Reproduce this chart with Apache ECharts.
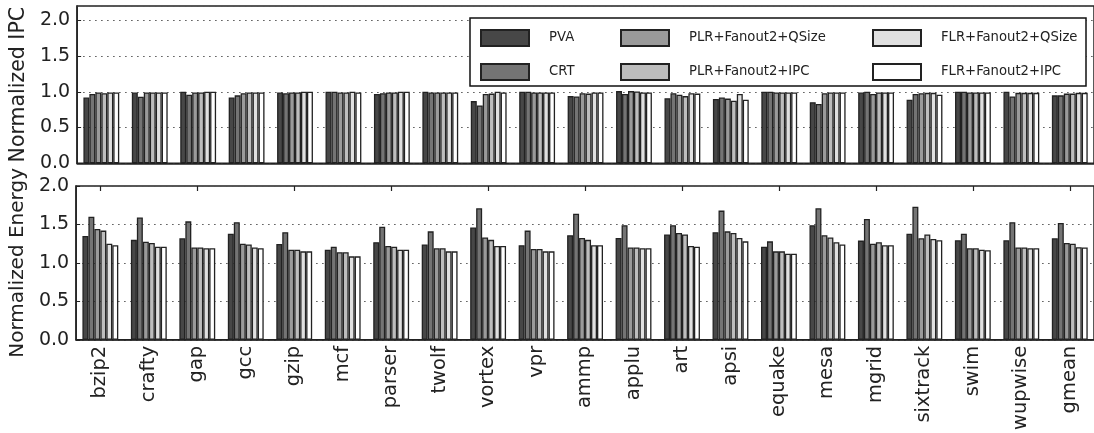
<!DOCTYPE html>
<html>
<head>
<meta charset="utf-8">
<script src="https://cdn.jsdelivr.net/npm/echarts@6/dist/echarts.min.js"></script>
<style>html,body{margin:0;padding:0;background:#fff;}#c{width:1094px;height:433px;}</style>
</head>
<body>
<div id="c"></div>
<script>
const categories = ['bzip2','crafty','gap','gcc','gzip','mcf','parser','twolf','vortex','vpr','ammp','applu','art','apsi','equake','mesa','mgrid','sixtrack','swim','wupwise','gmean'];
const seriesNames = ['PVA','CRT','PLR+Fanout2+QSize','PLR+Fanout2+IPC','FLR+Fanout2+QSize','FLR+Fanout2+IPC'];

const ipcPVA      = [0.92,0.99,1.00,0.92,0.99,1.00,0.97,1.00,0.87,1.00,0.94,1.01,0.91,0.90,1.00,0.855,0.99,0.89,1.00,1.00,0.95];
const ipcCRT      = [0.97,0.93,0.96,0.95,0.98,1.00,0.98,0.99,0.81,1.00,0.935,0.97,0.98,0.92,1.00,0.83,1.00,0.97,1.00,0.935,0.95];
const ipcPLRQSize = [0.99,0.99,0.99,0.98,0.99,0.99,0.99,0.99,0.97,0.99,0.98,1.01,0.96,0.905,0.99,0.98,0.97,0.98,0.99,0.985,0.975];
const ipcPLRIPC   = [0.98,0.99,0.99,0.99,0.99,0.99,0.99,0.99,0.975,0.99,0.975,1.005,0.94,0.875,0.99,0.99,0.99,0.985,0.99,0.985,0.975];
const ipcFLRQSize = [0.99,0.99,1.00,0.99,1.00,1.00,1.00,0.99,1.00,0.99,0.99,0.99,0.98,0.97,0.99,0.99,0.99,0.985,0.99,0.985,0.985];
const ipcFLRIPC   = [0.99,0.99,1.00,0.99,1.00,0.99,1.00,0.99,0.99,0.99,0.99,0.99,0.975,0.89,0.99,0.99,0.99,0.96,0.99,0.985,0.985];

const enPVA      = [1.35,1.30,1.32,1.38,1.245,1.17,1.27,1.24,1.46,1.23,1.36,1.325,1.37,1.40,1.21,1.49,1.29,1.38,1.295,1.295,1.32];
const enCRT      = [1.60,1.59,1.54,1.53,1.40,1.21,1.47,1.41,1.71,1.42,1.64,1.49,1.49,1.68,1.28,1.71,1.57,1.73,1.38,1.53,1.52];
const enPLRQSize = [1.44,1.275,1.20,1.25,1.17,1.14,1.22,1.19,1.33,1.18,1.325,1.20,1.39,1.41,1.15,1.36,1.25,1.32,1.19,1.20,1.26];
const enPLRIPC   = [1.42,1.26,1.20,1.24,1.17,1.14,1.21,1.19,1.30,1.18,1.30,1.20,1.37,1.39,1.15,1.33,1.27,1.37,1.19,1.20,1.25];
const enFLRQSize = [1.25,1.21,1.19,1.20,1.15,1.085,1.17,1.15,1.22,1.15,1.23,1.19,1.22,1.325,1.12,1.27,1.23,1.31,1.17,1.19,1.205];
const enFLRIPC   = [1.23,1.21,1.19,1.19,1.15,1.085,1.17,1.15,1.22,1.15,1.23,1.19,1.21,1.28,1.12,1.24,1.23,1.295,1.165,1.19,1.20];

const yTicksIPC = [0.0,0.5,1.0,1.5,2.0];
const yTicksEnergy = [0.0,0.5,1.0,1.5,2.0];

const ipcData = [ipcPVA, ipcCRT, ipcPLRQSize, ipcPLRIPC, ipcFLRQSize, ipcFLRIPC];
const enData = [enPVA, enCRT, enPLRQSize, enPLRIPC, enFLRQSize, enFLRIPC];
const colors = ['#474747','#747474','#9a9a9a','#bdbdbd','#e0e0e0','#ffffff'];

const FONT = 'DejaVu Sans';
const gridLeft = 72, gridWidth = 1026;

function yAxis(gridIndex, max, name, ticks, nameSize) {
  return {
    type: 'value', gridIndex: gridIndex, min: 0, max: max, interval: 0.5,
    name: name, nameLocation: 'middle', nameGap: 43,
    nameTextStyle: {fontFamily: FONT, fontSize: nameSize, color: '#222'},
    axisLine: {show: true, lineStyle: {color: '#222', width: 1.5}},
    axisTick: {show: true, inside: true, length: 4, lineStyle: {color: '#222'}},
    axisLabel: {
      fontFamily: FONT, fontSize: 19, color: '#222', margin: 7, showMaxLabel: max === 2.0,
      formatter: v => (ticks.some(t => Math.abs(t - v) < 1e-9) ? v.toFixed(1) : '')
    },
    splitLine: {show: true, lineStyle: {color: '#555', type: [1.5, 4.5], width: 1.2}}
  };
}

const series = [];
seriesNames.forEach((n, i) => {
  const style = {color: colors[i], borderColor: '#222', borderWidth: 1.3};
  series.push({name: n, type: 'bar', xAxisIndex: 0, yAxisIndex: 0, data: ipcData[i],
    barGap: '0%', barCategoryGap: '26%', itemStyle: style, animation: false});
  series.push({name: n, type: 'bar', xAxisIndex: 1, yAxisIndex: 1, data: enData[i],
    barGap: '0%', barCategoryGap: '26%', itemStyle: style, animation: false});
});

function legend(names, left) {
  return {
    data: names, orient: 'vertical', left: left, top: 24,
    itemWidth: 48, itemHeight: 16, itemGap: 16, icon: 'rect',
    selectedMode: false, z: 10,
    textStyle: {fontFamily: FONT, fontSize: 13.2, color: '#222', padding: [0, 0, 0, 15]}
  };
}

const option = {
  backgroundColor: '#fff',
  animation: false,
  grid: [
    {left: gridLeft, top: 6, width: gridWidth, height: 157.3, show: true, borderColor: '#222', borderWidth: 1.5, backgroundColor: 'transparent'},
    {left: gridLeft, top: 186, width: gridWidth, height: 157.3, show: true, borderColor: '#222', borderWidth: 1.5, backgroundColor: 'transparent'}
  ],
  xAxis: [
    {type: 'category', gridIndex: 0, data: categories, axisLine: {lineStyle: {color: '#222', width: 1.5}}, axisTick: {show: false}, axisLabel: {show: false}},
    {type: 'category', gridIndex: 1, data: categories, axisLine: {lineStyle: {color: '#222', width: 1.5}}, axisTick: {show: false},
      axisLabel: {rotate: 90, fontFamily: FONT, fontSize: 19.5, color: '#222', margin: 6, interval: 0}},
    {type: 'category', gridIndex: 1, position: 'top', data: categories, axisLine: {show: false},
      axisTick: {show: true, inside: true, length: 5, alignWithLabel: true, lineStyle: {color: '#222', width: 1.2}}, axisLabel: {show: false}}
  ],
  yAxis: [
    yAxis(0, 2.2, 'Normalized IPC', yTicksIPC, 20.5),
    yAxis(1, 2.0, 'Normalized Energy', yTicksEnergy, 20)
  ],
  legend: [
    legend([seriesNames[0], seriesNames[1]], 475),
    legend([seriesNames[2], seriesNames[3]], 615),
    legend([seriesNames[4], seriesNames[5]], 867)
  ],
  graphic: [
    {type: 'rect', z: 5, shape: {x: 470, y: 18, width: 616, height: 68},
      style: {fill: '#fff', stroke: '#111', lineWidth: 1.5}}
  ],
  series: series
};

const chart = echarts.init(document.getElementById('c'), null, {renderer: 'canvas'});
chart.setOption(option);
</script>
</body>
</html>
